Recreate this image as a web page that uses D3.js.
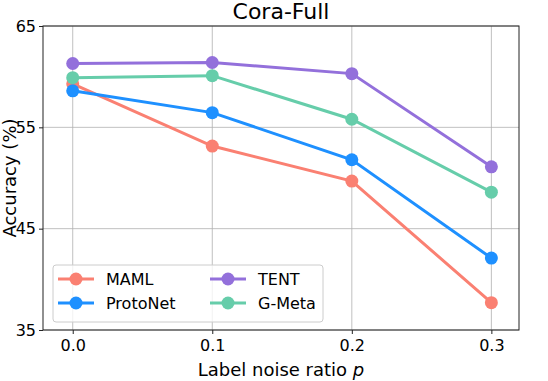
<!DOCTYPE html>
<html><head><meta charset="utf-8">
<script src="https://cdn.jsdelivr.net/npm/d3@7"></script>
<style>body{margin:0;background:#fff}svg{display:block;font-family:"DejaVu Sans",sans-serif}</style>
</head><body><svg id="c" width="548" height="381"></svg>
<script>
const xValues = [0.0, 0.1, 0.2, 0.3];
const xTickLabels = ["0.0", "0.1", "0.2", "0.3"];
const yTicks = [35, 45, 55, 65];
const seriesNames = ["MAML", "ProtoNet", "TENT", "G-Meta"];
const seriesColors = ["#fa8072", "#1e90ff", "#9370db", "#66cdaa"];
const maml = [59.3, 53.15, 49.7, 37.7];
const protonet = [58.6, 56.45, 51.8, 42.1];
const tent = [61.3, 61.4, 60.3, 51.1];
const gmeta = [59.9, 60.1, 55.8, 48.6];
const allSeries = [maml, protonet, tent, gmeta];

const svg = d3.select("#c");
const L = 43, R = 519, T = 26, B = 330;
const x = d3.scaleLinear().domain([-0.0213, 0.3198]).range([L, R]);
const y = d3.scaleLinear().domain([35, 65]).range([B, T]);

// grid
svg.append("g").selectAll("line").data(xValues).join("line")
  .attr("x1", d => x(d)).attr("x2", d => x(d)).attr("y1", T).attr("y2", B)
  .attr("stroke", "#b0b0b0").attr("stroke-width", 0.8);
svg.append("g").selectAll("line").data(yTicks).join("line")
  .attr("x1", L).attr("x2", R).attr("y1", d => y(d)).attr("y2", d => y(d))
  .attr("stroke", "#b0b0b0").attr("stroke-width", 0.8);

// lines
const line = d3.line().x((d, i) => x(xValues[i])).y(d => y(d));
allSeries.forEach((s, k) => {
  svg.append("path").datum(s).attr("d", line).attr("fill", "none")
    .attr("stroke", seriesColors[k]).attr("stroke-width", 3);
  svg.append("g").selectAll("circle").data(s).join("circle")
    .attr("cx", (d, i) => x(xValues[i])).attr("cy", d => y(d)).attr("r", 6.5)
    .attr("fill", seriesColors[k]);
});

// axes
const xAxis = d3.axisBottom(x).tickValues(xValues).tickFormat((d, i) => xTickLabels[i]).tickSize(4).tickPadding(6);
const yAxis = d3.axisLeft(y).tickValues(yTicks).tickSize(4).tickPadding(3);
const gx = svg.append("g").attr("transform", `translate(0,${B})`).call(xAxis);
const gy = svg.append("g").attr("transform", `translate(${L},0)`).call(yAxis);
[gx, gy].forEach(g => {
  g.select(".domain").remove();
  g.selectAll("text").attr("font-size", 16).attr("fill", "#000").attr("font-family", "DejaVu Sans");
  g.selectAll("line").attr("stroke", "#222").attr("stroke-width", 1);
});
svg.append("rect").attr("x", L).attr("y", T).attr("width", R - L).attr("height", B - T)
  .attr("fill", "none").attr("stroke", "#222").attr("stroke-width", 1);

// title and labels
svg.append("text").attr("x", (L + R) / 2).attr("y", 19).attr("text-anchor", "middle")
  .attr("font-size", 22).text("Cora-Full");
const xl = svg.append("text").attr("x", (L + R) / 2).attr("y", 376).attr("text-anchor", "middle")
  .attr("font-size", 18);
xl.append("tspan").text("Label noise ratio ");
xl.append("tspan").attr("font-style", "italic").text("p");
svg.append("text").attr("transform", `translate(16,${(T + B) / 2}) rotate(-90)`)
  .attr("text-anchor", "middle").attr("font-size", 18).text("Accuracy (%)");

// legend
const lg = svg.append("g");
lg.append("rect").attr("x", 53).attr("y", 265).attr("width", 270).attr("height", 57)
  .attr("rx", 3).attr("fill", "#fff").attr("fill-opacity", 0.8).attr("stroke", "#ccc");
seriesNames.forEach((n, k) => {
  const col = Math.floor(k / 2), row = k % 2;
  const lx = 58 + col * 152, ly = 279 + row * 24;
  lg.append("line").attr("x1", lx).attr("x2", lx + 36).attr("y1", ly).attr("y2", ly)
    .attr("stroke", seriesColors[k]).attr("stroke-width", 3);
  lg.append("circle").attr("cx", lx + 18).attr("cy", ly).attr("r", 6.5).attr("fill", seriesColors[k]);
  lg.append("text").attr("x", lx + 48).attr("y", ly + 6).attr("font-size", 16).text(n);
});
</script></body></html>
